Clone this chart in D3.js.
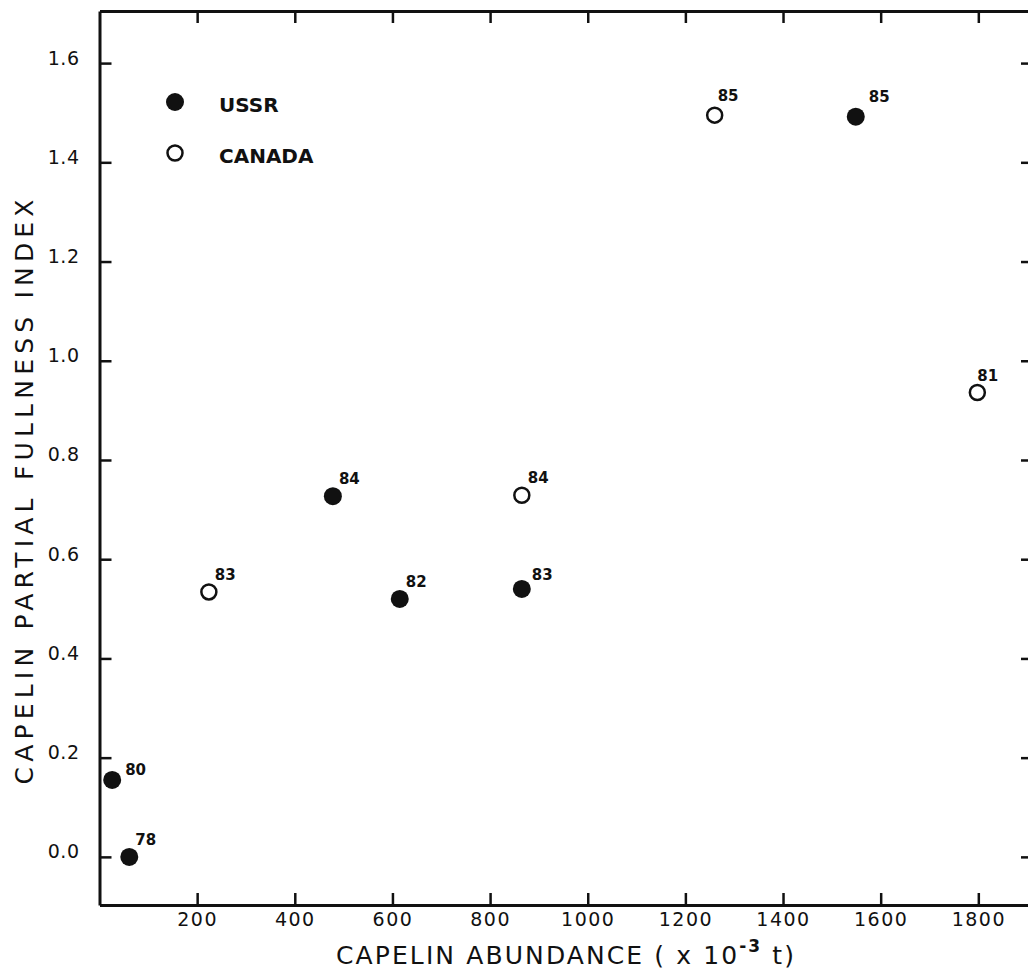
<!DOCTYPE html>
<html>
<head>
<meta charset="utf-8">
<script src="https://cdn.jsdelivr.net/npm/d3@7"></script>
<style>
    body { margin: 0; background: #fff; }
    svg { display: block; }
</style>
</head>
<body>
<div id="chart"></div>
<script>
// ============================================================================
// Capelin partial fullness index vs capelin abundance (USSR / Canada)
// ============================================================================

// USSR surveys (filled circles)
const ussrYears = ['78', '80', '82', '83', '84', '85'];
const ussrAbundance = [61, 26, 615, 865, 478, 1549];
const ussrFullness = [0.0, 0.155, 0.52, 0.54, 0.727, 1.492];

// Canadian surveys (open circles)
const canadaYears = ['81', '83', '84', '85'];
const canadaAbundance = [1798, 224, 865, 1260];
const canadaFullness = [0.936, 0.534, 0.729, 1.495];

// Axis ticks
const xTicks = [200, 400, 600, 800, 1000, 1200, 1400, 1600, 1800];
const yTicks = [0.0, 0.2, 0.4, 0.6, 0.8, 1.0, 1.2, 1.4, 1.6];

const legendItems = ['USSR', 'CANADA'];

document.addEventListener('DOMContentLoaded', () => {
    createChart();
});

function createChart() {
    const width = 1028;
    const height = 970;
    const ink = '#111';

    const svg = d3.select('#chart')
        .append('svg')
        .attr('width', width)
        .attr('height', height)
        .style('background', '#fff');

    // Scales (right frame edge falls just outside the picture)
    const xScale = d3.scaleLinear()
        .domain([0, 1912])
        .range([99.5, 1033]);

    const yScale = d3.scaleLinear()
        .domain([-0.097, 1.705])
        .range([905, 11]);

    const font = '"DejaVu Sans", sans-serif';

    // Axes - ticks point inward on all four sides
    const bottom = svg.append('g')
        .attr('transform', `translate(0,${yScale.range()[0]})`)
        .call(d3.axisBottom(xScale).tickValues(xTicks).tickSizeInner(-12).tickSizeOuter(0)
            .tickPadding(8).tickFormat(d3.format('d')));

    const top = svg.append('g')
        .attr('transform', `translate(0,${yScale.range()[1]})`)
        .call(d3.axisTop(xScale).tickValues(xTicks).tickSizeInner(-12).tickSizeOuter(0).tickFormat(''));

    const left = svg.append('g')
        .attr('transform', `translate(${xScale.range()[0]},0)`)
        .call(d3.axisLeft(yScale).tickValues(yTicks).tickSizeInner(-12).tickSizeOuter(0)
            .tickPadding(20).tickFormat(d3.format('.1f')));

    const right = svg.append('g')
        .attr('transform', `translate(${xScale.range()[1]},0)`)
        .call(d3.axisRight(yScale).tickValues(yTicks).tickSizeInner(-12).tickSizeOuter(0).tickFormat(''));

    [bottom, top, left, right].forEach(g => {
        g.select('.domain')
            .attr('stroke', ink)
            .attr('stroke-width', 3);
        g.selectAll('.tick line')
            .attr('stroke', ink)
            .attr('stroke-width', 2.5);
    });

    bottom.selectAll('text')
        .style('fill', ink)
        .style('font-family', font)
        .style('font-size', '19px')
        .style('letter-spacing', '1.5px');

    left.selectAll('text')
        .attr('dy', '0.05em')
        .style('fill', ink)
        .style('font-family', font)
        .style('font-size', '19px')
        .style('letter-spacing', '0.5px');

    // Axis titles
    const xTitle = svg.append('text')
        .attr('x', 336)
        .attr('y', 964)
        .attr('textLength', 458)
        .attr('lengthAdjust', 'spacing')
        .style('fill', ink)
        .style('font-family', font)
        .style('font-size', '25px');
    xTitle.append('tspan').text('CAPELIN ABUNDANCE ( x 10');
    xTitle.append('tspan')
        .attr('dy', -12)
        .style('font-size', '17px')
        .style('font-weight', 'bold')
        .text('-3');
    xTitle.append('tspan')
        .attr('dy', 12)
        .text(' t)');

    svg.append('text')
        .attr('transform', 'rotate(-90)')
        .attr('x', -492)
        .attr('y', 33)
        .attr('textLength', 585)
        .attr('lengthAdjust', 'spacing')
        .style('text-anchor', 'middle')
        .style('fill', ink)
        .style('font-family', font)
        .style('font-size', '25px')
        .text('CAPELIN PARTIAL FULLNESS INDEX');

    // Points
    const ussr = ussrYears.map((year, i) => ({ id: 'ussr' + year, year, x: ussrAbundance[i], y: ussrFullness[i], filled: true }));
    const canada = canadaYears.map((year, i) => ({ id: 'can' + year, year, x: canadaAbundance[i], y: canadaFullness[i], filled: false }));
    const points = ussr.concat(canada);

    // Label nudges for the few labels that sit away from the usual upper-right spot
    const labelNudge = {
        ussr80: [13, -5],
        ussr85: [13, -15],
        ussr83: [10, -9],
        can81: [0, -12],
        can85: [3, -14]
    };

    const g = svg.append('g');

    g.selectAll('.dot')
        .data(points)
        .enter()
        .append('circle')
        .attr('class', 'dot')
        .attr('cx', d => xScale(d.x))
        .attr('cy', d => yScale(d.y))
        .attr('r', d => d.filled ? 9 : 7.5)
        .attr('fill', d => d.filled ? ink : '#fff')
        .attr('stroke', ink)
        .attr('stroke-width', d => d.filled ? 0 : 2.5);

    g.selectAll('.year-label')
        .data(points)
        .enter()
        .append('text')
        .attr('class', 'year-label')
        .attr('x', d => xScale(d.x) + (labelNudge[d.id] ? labelNudge[d.id][0] : 6))
        .attr('y', d => yScale(d.y) + (labelNudge[d.id] ? labelNudge[d.id][1] : -12))
        .style('fill', ink)
        .style('font-family', font)
        .style('font-size', '15px')
        .style('font-weight', 'bold')
        .text(d => d.year);

    // Legend
    const legend = svg.append('g')
        .attr('transform', 'translate(175,102)');

    legendItems.forEach((label, i) => {
        const row = legend.append('g')
            .attr('transform', `translate(0, ${i * 51})`);

        row.append('circle')
            .attr('r', i === 0 ? 9 : 7.5)
            .attr('fill', i === 0 ? ink : '#fff')
            .attr('stroke', ink)
            .attr('stroke-width', i === 0 ? 0 : 2.5);

        row.append('text')
            .attr('x', 44)
            .attr('y', 10)
            .style('fill', ink)
            .style('font-family', font)
            .style('font-size', '20px')
            .style('font-weight', 'bold')
            .text(label);
    });
}
</script>
</body>
</html>
